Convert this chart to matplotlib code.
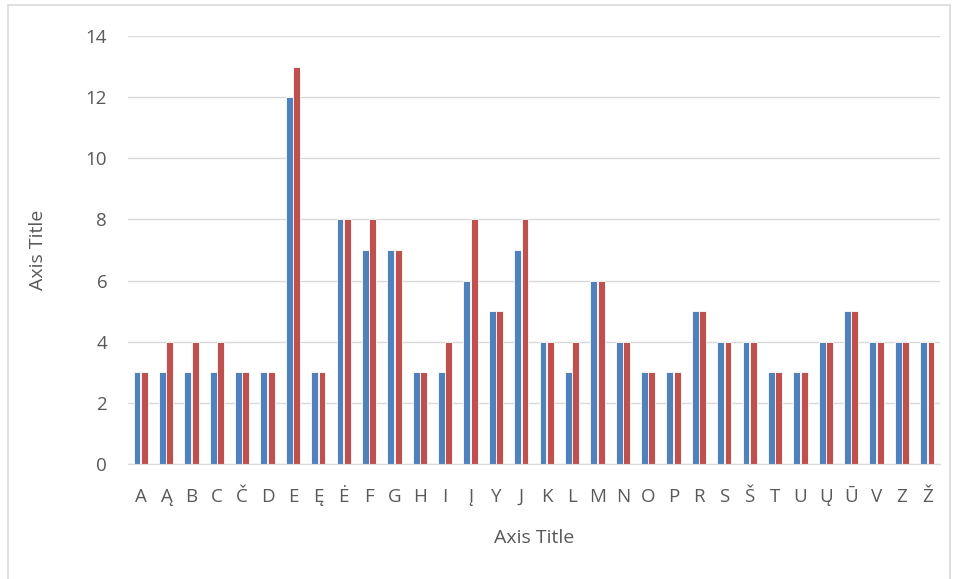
import numpy as np
import matplotlib
matplotlib.use("Agg")
import matplotlib.pyplot as plt
from matplotlib.patches import Rectangle

# duomenys
letters = ["A", "Ą", "B", "C", "Č", "D", "E", "Ę", "Ė", "F", "G", "H", "I", "Į", "Y", "J",
           "K", "L", "M", "N", "O", "P", "R", "S", "Š", "T", "U", "Ų", "Ū", "V", "Z", "Ž"]
series1 = [3, 3, 3, 3, 3, 3, 12, 3, 8, 7, 7, 3, 3, 6, 5, 7,
           4, 3, 6, 4, 3, 3, 5, 4, 4, 3, 3, 4, 5, 4, 4, 4]
series2 = [3, 4, 4, 4, 3, 3, 13, 3, 8, 8, 7, 3, 4, 8, 5, 8,
           4, 4, 6, 4, 3, 3, 5, 4, 4, 3, 3, 4, 5, 4, 4, 4]

plt.rcParams['font.family'] = ['Open Sans', 'DejaVu Sans']
gray = '#595959'

fig = plt.figure(figsize=(9.58, 5.79), dpi=100)
# ramka (apačia išeina už paveikslo)
fig.patches.append(Rectangle((8 / 958, -10 / 579), 942 / 958, 584 / 579, transform=fig.transFigure,
                             fill=False, edgecolor='#d9d9d9', linewidth=1.2))
ax = fig.add_axes([128 / 958, 115 / 579, 812 / 958, 428 / 579])

x = np.arange(len(letters))
w = 0.27
ax.bar(x - w / 2 - 0.01, series1, width=w, color='#4F81BD', edgecolor='white', linewidth=0.6)
ax.bar(x + w / 2 + 0.01, series2, width=w, color='#C0504D', edgecolor='white', linewidth=0.6)

ax.set_xlim(-0.5, len(letters) - 0.5)
ax.set_ylim(0, 14)
ax.set_yticks(range(0, 15, 2))
ax.set_xticks(x)
ax.set_xticklabels(letters)
ax.grid(axis='y', color='#d9d9d9', linewidth=1)
ax.set_axisbelow(True)
for s in ['top', 'right', 'left']:
    ax.spines[s].set_visible(False)
ax.spines['bottom'].set_color('#d9d9d9')
ax.tick_params(length=0, labelsize=13.5, colors=gray)
ax.tick_params(axis='x', pad=17)
ax.tick_params(axis='y', pad=15)

ax.set_xlabel('Axis Title', fontsize=14, color=gray, labelpad=17)
ax.set_ylabel('Axis Title', fontsize=14, color=gray, labelpad=28)

fig.savefig('out.png', dpi=100)
